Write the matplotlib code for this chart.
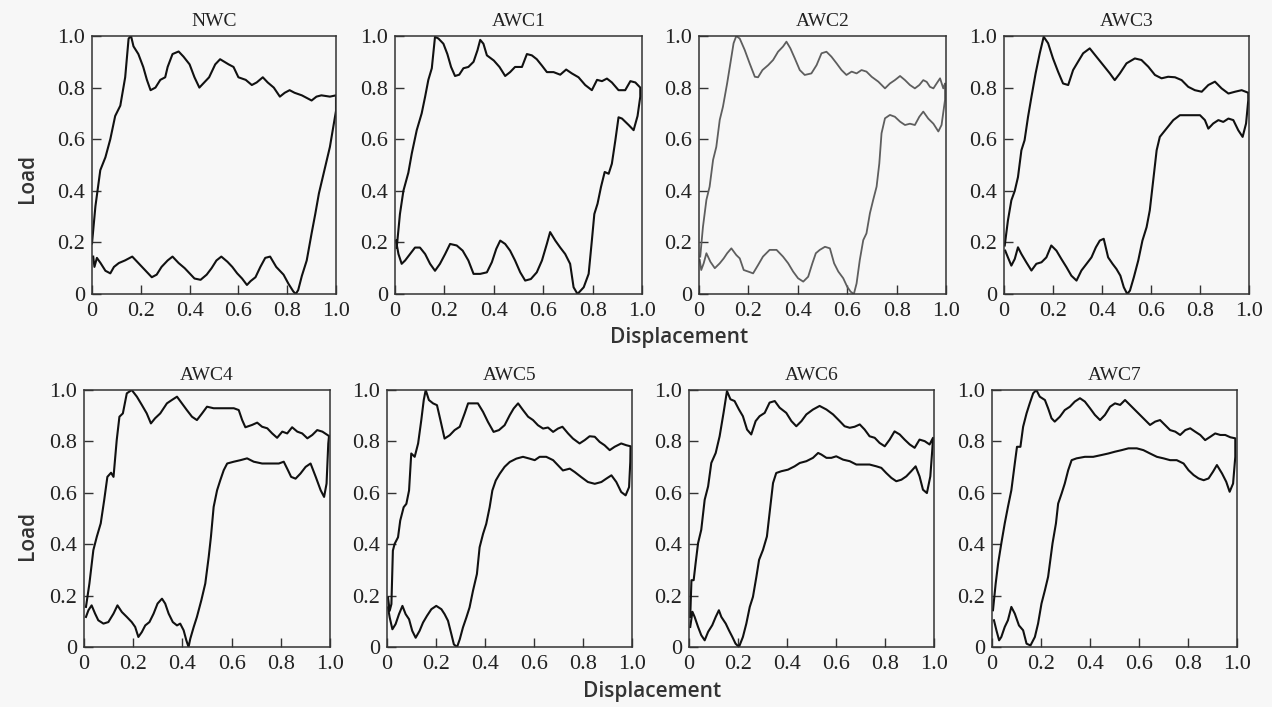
import numpy as np
import matplotlib
matplotlib.use("Agg")
import matplotlib.pyplot as plt

# panel titles
TITLES = ["NWC", "AWC1", "AWC2", "AWC3", "AWC4", "AWC5", "AWC6", "AWC7"]

# ---- data (upper branch left->right, lower branch right->left)
nwc_up_x = [0.0, 0.014, 0.034, 0.055, 0.075, 0.095, 0.116, 0.136, 0.15, 0.16, 0.17, 0.19, 0.21, 0.225, 0.24,
            0.26, 0.28, 0.30, 0.31, 0.33, 0.355, 0.375, 0.40, 0.42, 0.44, 0.46, 0.48, 0.505, 0.525, 0.56,
            0.58, 0.60, 0.63, 0.655, 0.675, 0.70, 0.72, 0.745, 0.77, 0.79, 0.81, 0.83, 0.86, 0.88, 0.90,
            0.92, 0.94, 0.975, 1.0]
nwc_up_y = [0.196, 0.34, 0.48, 0.53, 0.60, 0.69, 0.73, 0.84, 0.99, 1.0, 0.96, 0.93, 0.88, 0.83, 0.79,
            0.80, 0.83, 0.84, 0.88, 0.93, 0.94, 0.92, 0.89, 0.84, 0.80, 0.82, 0.84, 0.89, 0.91, 0.89,
            0.88, 0.84, 0.83, 0.81, 0.82, 0.84, 0.82, 0.80, 0.765, 0.78, 0.79, 0.78, 0.77, 0.76, 0.75,
            0.765, 0.77, 0.765, 0.77]
nwc_lo_x = [1.0, 0.975, 0.95, 0.93, 0.915, 0.90, 0.88, 0.86, 0.845, 0.835, 0.825, 0.805, 0.785, 0.755,
            0.73, 0.71, 0.69, 0.67, 0.65, 0.635, 0.615, 0.595, 0.575, 0.555, 0.53, 0.51, 0.49, 0.47, 0.445,
            0.42, 0.40, 0.38, 0.355, 0.33, 0.31, 0.285, 0.265, 0.245, 0.225, 0.205, 0.185, 0.165, 0.135,
            0.11, 0.09, 0.075, 0.055, 0.035, 0.02, 0.01, 0.005]
nwc_lo_y = [0.71, 0.57, 0.47, 0.39, 0.31, 0.235, 0.13, 0.07, 0.015, 0.0, 0.01, 0.04, 0.075, 0.105,
            0.145, 0.14, 0.105, 0.065, 0.05, 0.035, 0.06, 0.08, 0.105, 0.125, 0.145, 0.13, 0.10, 0.075, 0.055,
            0.06, 0.08, 0.10, 0.12, 0.145, 0.13, 0.105, 0.075, 0.065, 0.085, 0.105, 0.125, 0.145, 0.13,
            0.12, 0.105, 0.08, 0.09, 0.12, 0.14, 0.105, 0.145]

awc1_up_x = [0.007, 0.02, 0.034, 0.054, 0.068, 0.088, 0.108, 0.122, 0.135, 0.149, 0.162, 0.176, 0.196,
             0.212, 0.227, 0.243, 0.26, 0.277, 0.297, 0.318, 0.334, 0.345, 0.358, 0.372, 0.40, 0.423, 0.446,
             0.466, 0.486, 0.514, 0.534, 0.554, 0.574, 0.595, 0.615, 0.642, 0.669, 0.693, 0.716, 0.743,
             0.77, 0.797, 0.818, 0.838, 0.858, 0.878, 0.905, 0.932, 0.953, 0.973, 0.993]
awc1_up_y = [0.18, 0.31, 0.40, 0.47, 0.545, 0.635, 0.70, 0.765, 0.83, 0.875, 0.997, 0.99, 0.97,
             0.93, 0.88, 0.845, 0.85, 0.875, 0.88, 0.90, 0.945, 0.985, 0.97, 0.925, 0.905, 0.88, 0.845,
             0.86, 0.88, 0.88, 0.93, 0.925, 0.91, 0.885, 0.86, 0.86, 0.85, 0.87, 0.855, 0.84,
             0.81, 0.79, 0.83, 0.825, 0.835, 0.82, 0.79, 0.79, 0.825, 0.82, 0.80]
awc1_lo_x = [0.993, 0.982, 0.966, 0.946, 0.919, 0.905, 0.892, 0.878, 0.865, 0.849, 0.834, 0.82, 0.807,
             0.797, 0.784, 0.764, 0.739, 0.723, 0.709, 0.689, 0.669, 0.649, 0.628, 0.615, 0.595, 0.574,
             0.55, 0.527, 0.507, 0.486, 0.466, 0.446, 0.426, 0.41, 0.392, 0.372, 0.345, 0.318, 0.297, 0.274,
             0.25, 0.223, 0.203, 0.182, 0.162, 0.142, 0.122, 0.101, 0.081, 0.061, 0.041, 0.027, 0.014, 0.004]
awc1_lo_y = [0.765, 0.69, 0.635, 0.655, 0.68, 0.685, 0.595, 0.505, 0.466, 0.473, 0.415, 0.35, 0.31,
             0.207, 0.078, 0.026, 0.0, 0.026, 0.117, 0.155, 0.18, 0.207, 0.24, 0.195, 0.13, 0.084,
             0.058, 0.052, 0.084, 0.13, 0.168, 0.194, 0.207, 0.175, 0.123, 0.084, 0.078, 0.078, 0.13, 0.168,
             0.188, 0.194, 0.155, 0.117, 0.09, 0.117, 0.155, 0.18, 0.18, 0.155, 0.13, 0.117, 0.155, 0.207]

awc2_up_x = [0.005, 0.016, 0.03, 0.043, 0.057, 0.07, 0.084, 0.097, 0.114, 0.127, 0.14, 0.151, 0.165, 0.185,
             0.205, 0.226, 0.239, 0.257, 0.28, 0.30, 0.32, 0.34, 0.354, 0.37, 0.388, 0.408, 0.428, 0.455,
             0.476, 0.496, 0.516, 0.536, 0.557, 0.577, 0.597, 0.618, 0.638, 0.658, 0.678, 0.699, 0.726,
             0.753, 0.773, 0.793, 0.814, 0.834, 0.854, 0.874, 0.892, 0.908, 0.922, 0.935, 0.949, 0.962,
             0.976, 0.989, 0.996]
awc2_up_y = [0.145, 0.26, 0.365, 0.416, 0.52, 0.57, 0.675, 0.726, 0.817, 0.894, 0.972, 1.0, 0.99, 0.946,
             0.894, 0.842, 0.84, 0.868, 0.887, 0.907, 0.939, 0.959, 0.978, 0.952, 0.913, 0.868, 0.849, 0.855,
             0.887, 0.933, 0.939, 0.92, 0.894, 0.868, 0.849, 0.862, 0.855, 0.868, 0.862, 0.842, 0.823,
             0.797, 0.816, 0.829, 0.845, 0.829, 0.81, 0.797, 0.81, 0.829, 0.822, 0.803, 0.797, 0.816,
             0.836, 0.797, 0.816]
awc2_lo_x = [0.996, 0.982, 0.969, 0.949, 0.928, 0.908, 0.892, 0.874, 0.854, 0.834, 0.814, 0.793, 0.773,
             0.753, 0.739, 0.73, 0.719, 0.705, 0.692, 0.678, 0.665, 0.651, 0.638, 0.627, 0.614, 0.60, 0.584,
             0.564, 0.547, 0.53, 0.51, 0.489, 0.473, 0.459, 0.442, 0.422, 0.401, 0.381, 0.361, 0.34, 0.314,
             0.286, 0.259, 0.239, 0.219, 0.199, 0.181, 0.165, 0.151, 0.131, 0.114, 0.10, 0.084, 0.064,
             0.046, 0.03, 0.019, 0.009, 0.003]
awc2_lo_y = [0.752, 0.655, 0.63, 0.66, 0.68, 0.707, 0.687, 0.655, 0.66, 0.655, 0.668, 0.687, 0.694,
             0.681, 0.623, 0.506, 0.416, 0.364, 0.313, 0.235, 0.209, 0.132, 0.041, 0.0, 0.009, 0.028, 0.061,
             0.087, 0.119, 0.177, 0.183, 0.171, 0.158, 0.119, 0.067, 0.048, 0.061, 0.087, 0.119, 0.145, 0.171,
             0.171, 0.145, 0.112, 0.08, 0.087, 0.093, 0.138, 0.151, 0.177, 0.158, 0.138, 0.119, 0.10,
             0.125, 0.158, 0.119, 0.093, 0.132]

awc3_up_x = [0.003, 0.016, 0.03, 0.044, 0.057, 0.071, 0.084, 0.098, 0.112, 0.129, 0.146, 0.162, 0.18, 0.20,
             0.221, 0.241, 0.262, 0.282, 0.302, 0.323, 0.35, 0.377, 0.405, 0.432, 0.452, 0.473, 0.50, 0.534,
             0.561, 0.589, 0.616, 0.643, 0.67, 0.698, 0.725, 0.752, 0.779, 0.807, 0.834, 0.861, 0.888,
             0.916, 0.943, 0.97, 0.997]
awc3_up_y = [0.188, 0.285, 0.363, 0.40, 0.453, 0.557, 0.596, 0.686, 0.764, 0.855, 0.933, 0.997, 0.972, 0.913,
             0.861, 0.816, 0.81, 0.868, 0.90, 0.933, 0.952, 0.92, 0.887, 0.855, 0.829, 0.855, 0.894, 0.913,
             0.907, 0.881, 0.849, 0.836, 0.842, 0.84, 0.829, 0.803, 0.79, 0.784, 0.81, 0.823, 0.797,
             0.777, 0.784, 0.79, 0.78]
awc3_lo_x = [0.997, 0.988, 0.974, 0.956, 0.936, 0.916, 0.895, 0.875, 0.854, 0.834, 0.82, 0.80, 0.759, 0.718,
             0.691, 0.663, 0.636, 0.623, 0.609, 0.595, 0.582, 0.565, 0.548, 0.53, 0.514, 0.503, 0.489, 0.475,
             0.459, 0.443, 0.425, 0.407, 0.391, 0.375, 0.357, 0.337, 0.316, 0.296, 0.275, 0.255, 0.234,
             0.214, 0.193, 0.173, 0.153, 0.132, 0.112, 0.091, 0.071, 0.057, 0.044, 0.03, 0.016, 0.005]
awc3_lo_y = [0.751, 0.661, 0.609, 0.635, 0.674, 0.68, 0.667, 0.674, 0.661, 0.641, 0.674, 0.693, 0.693, 0.693,
             0.674, 0.641, 0.609, 0.557, 0.44, 0.324, 0.259, 0.207, 0.13, 0.065, 0.013, 0.0, 0.026, 0.071,
             0.097, 0.117, 0.142, 0.214, 0.207, 0.181, 0.142, 0.117, 0.091, 0.052, 0.071, 0.104, 0.136,
             0.168, 0.188, 0.142, 0.123, 0.117, 0.091, 0.123, 0.155, 0.181, 0.136, 0.11, 0.142, 0.168]

awc4_up_x = [0.008, 0.022, 0.038, 0.052, 0.068, 0.082, 0.095, 0.11, 0.12, 0.133, 0.144, 0.158, 0.174, 0.194,
             0.215, 0.235, 0.255, 0.272, 0.289, 0.31, 0.337, 0.357, 0.378, 0.398, 0.418, 0.439, 0.459, 0.48,
             0.50, 0.527, 0.554, 0.582, 0.609, 0.629, 0.643, 0.656, 0.683, 0.704, 0.724, 0.745, 0.765, 0.785,
             0.806, 0.826, 0.846, 0.867, 0.887, 0.908, 0.928, 0.948, 0.969, 0.996]
awc4_up_y = [0.156, 0.247, 0.377, 0.429, 0.481, 0.571, 0.662, 0.678, 0.662, 0.805, 0.896, 0.909, 0.987, 1.0,
             0.974, 0.942, 0.909, 0.87, 0.89, 0.909, 0.948, 0.961, 0.974, 0.948, 0.922, 0.896, 0.883, 0.909,
             0.935, 0.929, 0.929, 0.929, 0.929, 0.922, 0.883, 0.855, 0.864, 0.873, 0.857, 0.851, 0.831, 0.814,
             0.838, 0.831, 0.855, 0.838, 0.831, 0.812, 0.825, 0.844, 0.838, 0.821]
awc4_lo_x = [0.993, 0.986, 0.976, 0.962, 0.942, 0.921, 0.901, 0.88, 0.86, 0.842, 0.829, 0.812, 0.792, 0.758,
             0.724, 0.69, 0.663, 0.636, 0.609, 0.582, 0.568, 0.554, 0.541, 0.527, 0.516, 0.507, 0.493, 0.477,
             0.459, 0.446, 0.432, 0.425, 0.416, 0.405, 0.391, 0.378, 0.361, 0.344, 0.33, 0.317, 0.299, 0.283,
             0.266, 0.249, 0.235, 0.221, 0.208, 0.194, 0.174, 0.154, 0.136, 0.12, 0.099, 0.079, 0.058, 0.045,
             0.031, 0.018, 0.008]
awc4_lo_y = [0.792, 0.636, 0.584, 0.61, 0.662, 0.714, 0.701, 0.675, 0.655, 0.662, 0.688, 0.721, 0.714, 0.714,
             0.714, 0.721, 0.734, 0.727, 0.721, 0.714, 0.688, 0.649, 0.61, 0.545, 0.429, 0.351, 0.247, 0.182,
             0.117, 0.078, 0.032, 0.0, 0.026, 0.065, 0.091, 0.084, 0.097, 0.13, 0.169, 0.188, 0.169, 0.13,
             0.097, 0.084, 0.058, 0.039, 0.078, 0.097, 0.117, 0.136, 0.162, 0.13, 0.097, 0.091, 0.104, 0.13,
             0.162, 0.143, 0.117]

awc5_up_x = [0.004, 0.011, 0.018, 0.024, 0.031, 0.045, 0.054, 0.068, 0.079, 0.09, 0.099, 0.113, 0.127, 0.14,
             0.15, 0.158, 0.171, 0.188, 0.204, 0.218, 0.235, 0.256, 0.276, 0.297, 0.317, 0.331, 0.351, 0.371,
             0.392, 0.412, 0.435, 0.457, 0.48, 0.501, 0.517, 0.535, 0.555, 0.576, 0.596, 0.616, 0.637, 0.657,
             0.678, 0.698, 0.716, 0.739, 0.759, 0.786, 0.807, 0.827, 0.848, 0.868, 0.888, 0.909, 0.929,
             0.956, 0.977, 0.994]
awc5_up_y = [0.193, 0.141, 0.167, 0.375, 0.401, 0.427, 0.492, 0.544, 0.557, 0.609, 0.753, 0.74, 0.792, 0.883,
             0.961, 1.0, 0.961, 0.948, 0.941, 0.883, 0.811, 0.824, 0.844, 0.857, 0.909, 0.948, 0.948, 0.948,
             0.915, 0.876, 0.837, 0.844, 0.863, 0.902, 0.928, 0.948, 0.922, 0.896, 0.883, 0.863, 0.85, 0.854,
             0.837, 0.85, 0.857, 0.831, 0.811, 0.792, 0.805, 0.82, 0.818, 0.798, 0.785, 0.766, 0.779,
             0.792, 0.785, 0.781]
awc5_lo_x = [0.993, 0.988, 0.974, 0.956, 0.936, 0.916, 0.895, 0.875, 0.848, 0.82, 0.793, 0.766, 0.746, 0.718,
             0.698, 0.678, 0.65, 0.623, 0.603, 0.582, 0.555, 0.528, 0.501, 0.48, 0.46, 0.444, 0.43, 0.419,
             0.405, 0.392, 0.378, 0.367, 0.351, 0.337, 0.324, 0.31, 0.297, 0.286, 0.273, 0.263, 0.249, 0.235,
             0.222, 0.201, 0.181, 0.163, 0.147, 0.133, 0.117, 0.103, 0.09, 0.076, 0.063, 0.049, 0.035, 0.022,
             0.011, 0.004]
awc5_lo_y = [0.72, 0.622, 0.59, 0.603, 0.642, 0.668, 0.655, 0.642, 0.635, 0.642, 0.661, 0.681, 0.694, 0.687,
             0.707, 0.727, 0.74, 0.74, 0.727, 0.733, 0.74, 0.733, 0.72, 0.701, 0.674, 0.648, 0.609, 0.544,
             0.479, 0.44, 0.388, 0.284, 0.219, 0.154, 0.115, 0.076, 0.03, 0.0, 0.01, 0.049, 0.102, 0.128,
             0.147, 0.16, 0.147, 0.121, 0.095, 0.063, 0.036, 0.063, 0.108, 0.128, 0.16, 0.128, 0.089, 0.069,
             0.115, 0.154]

awc6_up_x = [0.005, 0.01, 0.019, 0.027, 0.037, 0.05, 0.064, 0.078, 0.091, 0.109, 0.125, 0.141, 0.155, 0.169,
             0.186, 0.204, 0.22, 0.237, 0.254, 0.272, 0.288, 0.309, 0.329, 0.35, 0.37, 0.397, 0.418, 0.438,
             0.459, 0.479, 0.506, 0.533, 0.561, 0.588, 0.615, 0.635, 0.656, 0.676, 0.697, 0.717, 0.737,
             0.758, 0.778, 0.799, 0.819, 0.839, 0.86, 0.88, 0.901, 0.921, 0.941, 0.962, 0.982, 0.996]
awc6_up_y = [0.117, 0.26, 0.26, 0.326, 0.404, 0.456, 0.573, 0.625, 0.716, 0.755, 0.82, 0.911, 0.996, 0.964,
             0.957, 0.924, 0.898, 0.846, 0.827, 0.879, 0.898, 0.911, 0.951, 0.957, 0.931, 0.911, 0.879, 0.859,
             0.879, 0.905, 0.924, 0.938, 0.924, 0.905, 0.879, 0.859, 0.853, 0.857, 0.866, 0.846, 0.82,
             0.814, 0.794, 0.781, 0.807, 0.839, 0.827, 0.807, 0.788, 0.775, 0.807, 0.801, 0.788, 0.814]
awc6_lo_x = [0.993, 0.985, 0.971, 0.955, 0.941, 0.925, 0.907, 0.887, 0.867, 0.846, 0.826, 0.805, 0.785, 0.765,
             0.737, 0.71, 0.683, 0.656, 0.629, 0.601, 0.581, 0.561, 0.54, 0.527, 0.506, 0.479, 0.452, 0.431,
             0.404, 0.377, 0.356, 0.343, 0.332, 0.318, 0.302, 0.286, 0.275, 0.261, 0.248, 0.234, 0.22, 0.204,
             0.19, 0.177, 0.163, 0.15, 0.132, 0.122, 0.109, 0.095, 0.078, 0.064, 0.05, 0.037, 0.023, 0.014,
             0.005]
awc6_lo_y = [0.768, 0.664, 0.599, 0.612, 0.664, 0.703, 0.684, 0.664, 0.651, 0.645, 0.658, 0.677, 0.697, 0.703,
             0.71, 0.71, 0.71, 0.723, 0.729, 0.742, 0.736, 0.736, 0.749, 0.755, 0.736, 0.723, 0.716, 0.703,
             0.69, 0.684, 0.677, 0.638, 0.547, 0.43, 0.378, 0.339, 0.273, 0.195, 0.156, 0.091, 0.039, 0.0,
             0.013, 0.039, 0.065, 0.091, 0.117, 0.143, 0.117, 0.085, 0.059, 0.026, 0.046, 0.078, 0.117, 0.137,
             0.078]

awc7_up_x = [0.004, 0.015, 0.025, 0.038, 0.052, 0.065, 0.079, 0.093, 0.102, 0.116, 0.127, 0.141, 0.154, 0.168,
             0.181, 0.195, 0.216, 0.229, 0.243, 0.256, 0.277, 0.297, 0.318, 0.338, 0.359, 0.379, 0.40, 0.42,
             0.441, 0.461, 0.482, 0.502, 0.523, 0.543, 0.563, 0.584, 0.604, 0.625, 0.645, 0.666, 0.686,
             0.706, 0.727, 0.748, 0.768, 0.789, 0.809, 0.829, 0.85, 0.87, 0.891, 0.911, 0.932, 0.952, 0.973,
             0.993]
awc7_up_y = [0.143, 0.247, 0.325, 0.403, 0.481, 0.545, 0.61, 0.714, 0.779, 0.779, 0.857, 0.909, 0.948, 0.987,
             1.0, 0.974, 0.961, 0.929, 0.89, 0.877, 0.896, 0.922, 0.935, 0.955, 0.968, 0.955, 0.929, 0.903,
             0.883, 0.903, 0.935, 0.948, 0.942, 0.961, 0.942, 0.922, 0.903, 0.883, 0.864, 0.877, 0.883,
             0.864, 0.844, 0.838, 0.825, 0.844, 0.851, 0.838, 0.825, 0.805, 0.818, 0.831, 0.825, 0.825, 0.816,
             0.812]
awc7_lo_x = [0.993, 0.984, 0.97, 0.956, 0.939, 0.918, 0.902, 0.884, 0.864, 0.843, 0.823, 0.802, 0.782, 0.754,
             0.727, 0.70, 0.673, 0.645, 0.618, 0.591, 0.557, 0.529, 0.502, 0.475, 0.447, 0.413, 0.379, 0.345,
             0.325, 0.311, 0.297, 0.284, 0.27, 0.261, 0.247, 0.229, 0.216, 0.202, 0.188, 0.175, 0.157, 0.141,
             0.127, 0.11, 0.093, 0.079, 0.065, 0.052, 0.038, 0.029, 0.018, 0.008]
awc7_lo_y = [0.74, 0.636, 0.604, 0.643, 0.675, 0.708, 0.682, 0.656, 0.649, 0.656, 0.669, 0.688, 0.714, 0.727,
             0.727, 0.734, 0.74, 0.753, 0.766, 0.773, 0.773, 0.766, 0.76, 0.753, 0.747, 0.74, 0.74, 0.734,
             0.727, 0.688, 0.636, 0.597, 0.558, 0.481, 0.403, 0.273, 0.221, 0.169, 0.091, 0.039, 0.006, 0.013,
             0.065, 0.084, 0.13, 0.156, 0.104, 0.078, 0.039, 0.026, 0.065, 0.104]

CURVES = [
    (nwc_up_x, nwc_up_y, nwc_lo_x, nwc_lo_y),
    (awc1_up_x, awc1_up_y, awc1_lo_x, awc1_lo_y),
    (awc2_up_x, awc2_up_y, awc2_lo_x, awc2_lo_y),
    (awc3_up_x, awc3_up_y, awc3_lo_x, awc3_lo_y),
    (awc4_up_x, awc4_up_y, awc4_lo_x, awc4_lo_y),
    (awc5_up_x, awc5_up_y, awc5_lo_x, awc5_lo_y),
    (awc6_up_x, awc6_up_y, awc6_lo_x, awc6_lo_y),
    (awc7_up_x, awc7_up_y, awc7_lo_x, awc7_lo_y),
]

TICKS = [0, 0.2, 0.4, 0.6, 0.8, 1.0]
TICK_LABELS = ["0", "0.2", "0.4", "0.6", "0.8", "1.0"]

# axes boxes in pixels: left, top, right, bottom
BOXES = [(92, 36, 336, 294), (395, 36, 642, 294), (699, 36, 946, 294), (1004, 36, 1249, 294),
         (84, 390, 330, 647), (387, 390, 632, 647), (689, 390, 934, 647), (992, 390, 1237, 647)]

W, H = 1272, 707
BG = "#f7f7f7"
fig = plt.figure(figsize=(W / 100, H / 100), dpi=100, facecolor=BG)

for i, (title, (ux, uy, lx, ly), box) in enumerate(zip(TITLES, CURVES, BOXES)):
    l, t, r, b = box
    ax = fig.add_axes([l / W, 1 - b / H, (r - l) / W, (b - t) / H], facecolor=BG)
    x = np.concatenate([ux, lx])
    y = np.concatenate([uy, ly])
    if title == "AWC2":
        ax.plot(x, y, color="#5e5e5e", lw=1.3)
    else:
        ax.plot(x, y, color="#111111", lw=1.5)
    ax.set_xlim(0, 1)
    ax.set_ylim(0, 1)
    ax.set_xticks(TICKS)
    ax.set_yticks(TICKS)
    ax.set_xticklabels(TICK_LABELS)
    ax.set_yticklabels(TICK_LABELS)
    ax.tick_params(direction="in", length=6.5, width=1.0, color="#333333",
                   labelsize=16, labelcolor="#222222")
    ax.tick_params(axis="x", pad=6)
    ax.tick_params(axis="y", pad=5)
    for lab in ax.get_xticklabels() + ax.get_yticklabels():
        lab.set_fontfamily("Liberation Serif")
    for sp in ax.spines.values():
        sp.set_color("#333333")
        sp.set_linewidth(1.1)
    ax.set_title(title, fontsize=14, family="Liberation Serif", color="#222222", pad=7)

# shared axis labels
lab_kw = dict(family="Open Sans", fontweight="semibold", color="#333333", fontsize=15)
fig.text(28 / W, 1 - 178 / H, "Load", rotation=90, ha="center", va="center", **lab_kw)
fig.text(28 / W, 1 - 535 / H, "Load", rotation=90, ha="center", va="center", **lab_kw)
fig.text(679 / W, 1 - 337 / H, "Displacement", ha="center", va="center", **lab_kw)
fig.text(652 / W, 1 - 692 / H, "Displacement", ha="center", va="center", **lab_kw)

fig.savefig("out.png", dpi=100, facecolor=BG)
